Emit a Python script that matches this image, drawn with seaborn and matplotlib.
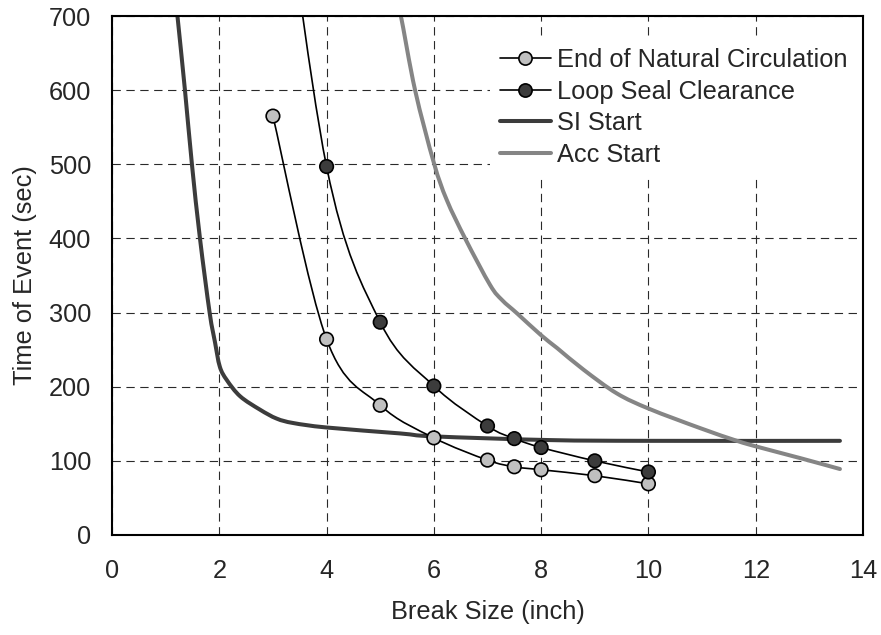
import numpy as np
import pandas as pd
import matplotlib
matplotlib.use("Agg")
import matplotlib.pyplot as plt
import seaborn as sns
from matplotlib.path import Path
from matplotlib.patches import PathPatch
from matplotlib.lines import Line2D

# ── Data ─────────────────────────────────────────────────────
enc_x = [3, 4, 5, 6, 7, 7.5, 8, 9, 10]
enc_y = [565, 264, 175, 131, 101, 92, 88, 80, 69]

lsc_x = [3, 4, 5, 6, 7, 7.5, 8, 9, 10]
lsc_y = [1000, 497, 287, 201, 147, 130, 118, 100, 85]

si_x = [1.15, 1.22, 1.36, 1.49, 1.64, 1.82, 1.92, 2.01, 2.14, 2.39, 2.76, 3.07,
        3.38, 4.0, 5.37, 6.0, 8.17, 10.0, 13.57]
si_y = [750, 700, 600, 500, 400, 300, 260, 227, 209, 187, 169, 157,
        151, 145, 137, 133, 128, 127, 127]

acc_x = [5.3, 5.38, 5.65, 6.0, 6.24, 6.59, 7.05, 7.27, 7.55, 7.99, 8.3, 8.79,
         9.41, 10.02, 10.97, 11.65, 12.03, 12.84, 13.57]
acc_y = [720, 702, 600, 502, 452, 399, 337, 317, 299, 270, 252, 223,
         191, 170, 144, 127, 119, 103.5, 89]

x_ticks = [0, 2, 4, 6, 8, 10, 12, 14]
y_ticks = [0, 100, 200, 300, 400, 500, 600, 700]

FS = 18.3
sns.set_style("white")
plt.rcParams["font.family"] = ["Liberation Sans", "DejaVu Sans"]


def smooth_path(x, y):
    """Excel-style smoothed line: Catmull-Rom as cubic Bezier segments."""
    pts = np.column_stack([x, y]).astype(float)
    n = len(pts)
    verts = [pts[0]]
    codes = [Path.MOVETO]
    for i in range(n - 1):
        p0 = pts[max(i - 1, 0)]
        p1 = pts[i]
        p2 = pts[i + 1]
        p3 = pts[min(i + 2, n - 1)]
        verts += [p1 + (p2 - p0) / 6, p2 - (p3 - p1) / 6, p2]
        codes += [Path.CURVE4] * 3
    return Path(verts, codes)


fig = plt.figure(figsize=(8.81, 6.35), dpi=100)
ax = fig.add_axes([112 / 881, 1 - 535 / 635, 751 / 881, 519 / 635])

# Thick lines
ax.add_patch(PathPatch(smooth_path(si_x, si_y), fill=False, ec="#3c3c3c",
                       lw=2.9, capstyle="round", zorder=2))
ax.add_patch(PathPatch(smooth_path(acc_x, acc_y), fill=False, ec="#858585",
                       lw=2.9, capstyle="round", zorder=2.1))

# Thin smoothed lines with markers
ax.add_patch(PathPatch(smooth_path(enc_x, enc_y), fill=False, ec="black",
                       lw=1.2, zorder=3))
ax.add_patch(PathPatch(smooth_path(lsc_x, lsc_y), fill=False, ec="black",
                       lw=1.2, zorder=3))

pts = pd.concat([
    pd.DataFrame({"x": enc_x, "y": enc_y, "s": "End of Natural Circulation"}),
    pd.DataFrame({"x": lsc_x, "y": lsc_y, "s": "Loop Seal Clearance"}),
])
sns.scatterplot(data=pts, x="x", y="y", hue="s",
                palette={"End of Natural Circulation": "#c0c0c0",
                         "Loop Seal Clearance": "#3c3c3c"},
                s=95, edgecolor="black", linewidth=1.2, legend=False,
                zorder=4, ax=ax)

ax.set_xlim(0, 14)
ax.set_ylim(0, 700)
ax.set_xticks(x_ticks)
ax.set_yticks(y_ticks)
ax.tick_params(length=0, labelsize=FS, pad=15)
ax.tick_params(axis="x", pad=17)
ax.grid(True, color="#2a2a2a", lw=0.8, linestyle=(0, (7.5, 5)))
for sp in ax.spines.values():
    sp.set_color("black")
    sp.set_linewidth(1.5)

ax.set_xlabel("Break Size (inch)", fontsize=FS)
ax.set_ylabel("Time of Event (sec)", fontsize=FS)
ax.xaxis.set_label_coords(0.5, -0.125)
ax.yaxis.set_label_coords(-0.1, 0.5)

handles = [
    Line2D([], [], color="black", lw=1.2, marker="o", markersize=9.5,
           markerfacecolor="#c0c0c0", markeredgecolor="black", markeredgewidth=1.2),
    Line2D([], [], color="black", lw=1.2, marker="o", markersize=9.5,
           markerfacecolor="#3c3c3c", markeredgecolor="black", markeredgewidth=1.2),
    Line2D([], [], color="#3c3c3c", lw=2.9),
    Line2D([], [], color="#858585", lw=2.9),
]
labels = ["End of Natural Circulation", "Loop Seal Clearance", "SI Start", "Acc Start"]
leg = ax.legend(handles, labels, loc="upper left", bbox_to_anchor=(0.503, 0.958),
                borderaxespad=0, borderpad=0.4, fontsize=FS, frameon=True,
                fancybox=False, framealpha=1, facecolor="white", edgecolor="none",
                handlelength=2.0, handletextpad=0.25, labelspacing=0.3)
leg.set_zorder(5)

fig.savefig("out.png", dpi=100)
